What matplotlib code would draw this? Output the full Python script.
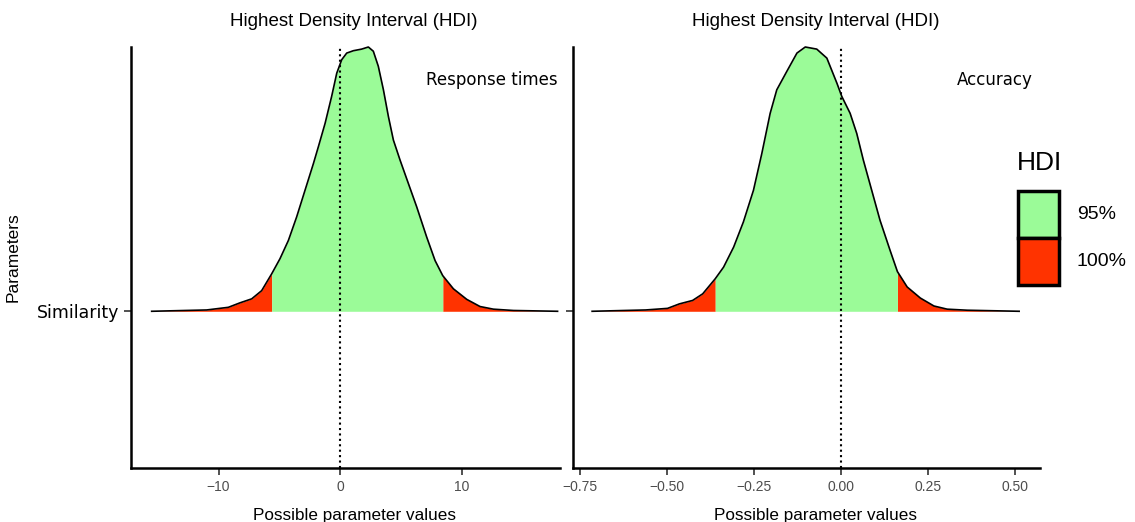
import matplotlib
matplotlib.use("Agg")
import matplotlib.pyplot as plt
from matplotlib.patches import Rectangle
import numpy as np

# traced density curves (x = parameter value, h = scaled density)
rt_x = [-15.5, -10.97, -9.19, -8.23, -7.27, -6.45, -5.62, -4.94, -4.25, -3.57,
        -2.88, -2.19, -1.78, -1.23, -0.69, -0.27, 0.14, 0.55, 1.10, 1.78,
        2.33, 2.74, 3.15, 3.57, 3.98, 4.39, 4.94, 5.62, 6.31, 7.13, 7.82,
        8.45, 9.33, 10.43, 11.52, 12.62, 14.27, 17.9]
rt_h = [0.0, 0.005, 0.015, 0.032, 0.047, 0.078, 0.142, 0.199, 0.268, 0.357,
        0.458, 0.559, 0.623, 0.711, 0.813, 0.901, 0.952, 0.977, 0.986, 0.992,
        1.0, 0.984, 0.927, 0.838, 0.737, 0.648, 0.572, 0.484, 0.395, 0.281,
        0.192, 0.135, 0.085, 0.045, 0.018, 0.008, 0.003, 0.0]
rt_hdi = [-5.62, 8.45]

acc_x = [-0.716, -0.562, -0.499, -0.465, -0.427, -0.398, -0.362, -0.338,
         -0.309, -0.281, -0.252, -0.228, -0.204, -0.185, -0.156, -0.127,
         -0.103, -0.070, -0.041, -0.012, 0.002, 0.026, 0.045, 0.064, 0.088,
         0.112, 0.141, 0.162, 0.190, 0.228, 0.267, 0.305, 0.363, 0.512]
acc_h = [0.0, 0.005, 0.011, 0.028, 0.041, 0.066, 0.123, 0.167, 0.243, 0.338,
         0.458, 0.597, 0.749, 0.838, 0.908, 0.977, 1.0, 0.992, 0.958, 0.863,
         0.813, 0.749, 0.673, 0.572, 0.458, 0.344, 0.230, 0.15, 0.092, 0.05,
         0.02, 0.008, 0.004, 0.0]
acc_hdi = [-0.362, 0.162]

rt_ticks = [-10, 0, 10]
acc_ticks = [-0.75, -0.50, -0.25, 0.00, 0.25, 0.50]
param_label = "Similarity"
legend_labels = ["95%", "100%"]

GREEN = "#9BFB98"
RED = "#FF3300"
W, H = 1135, 522

fig = plt.figure(figsize=(W / 100, H / 100), dpi=100)


def px_axes(x0, x1, y0, y1):
    return fig.add_axes([x0 / W, 1 - y1 / H, (x1 - x0) / W, (y1 - y0) / H])


def ridge(ax, x, h, hdi, xlim, ticks, ticklabels, note, note_x):
    x = np.array(x)
    h = np.array(h)
    lo, hi = hdi
    ax.fill_between(x, 0, h, where=(x <= lo), color=RED, lw=0)
    ax.fill_between(x, 0, h, where=(x >= hi), color=RED, lw=0)
    ax.fill_between(x, 0, h, where=(x >= lo) & (x <= hi), color=GREEN, lw=0)
    ax.plot(x, h, color="black", lw=1.2, clip_on=False, solid_joinstyle="round")
    ax.axvline(0, color="black", lw=1.5, ls=(0, (1, 1.6)))
    ax.set_xlim(*xlim)
    ax.set_ylim(-0.593, 1.0)
    for s in ["top", "right"]:
        ax.spines[s].set_visible(False)
    for s in ["left", "bottom"]:
        ax.spines[s].set_linewidth(1.8)
    ax.set_xticks(ticks)
    ax.set_xticklabels(ticklabels, fontsize=10, color="#4D4D4D",
                       family="Liberation Sans")
    ax.tick_params(axis="both", length=5, width=1.2, color="#333333")
    ax.set_yticks([0])
    ax.set_title("Highest Density Interval (HDI)", fontsize=13.5,
                 family="Liberation Sans", pad=15, x=0.52)
    ax.set_xlabel("Possible parameter values", fontsize=12.3,
                  family="Liberation Sans", labelpad=10, x=0.52)
    ax.text(note_x, 0.875, note, ha="right", va="center", fontsize=12,
            family="DejaVu Sans")


ax1 = px_axes(131, 560, 47, 468)
ridge(ax1, rt_x, rt_h, rt_hdi, (-17.2, 18.1), rt_ticks,
      ["\u2212" + str(-t) if t < 0 else str(t) for t in rt_ticks],
      "Response times", 17.9)
ax1.set_yticklabels([param_label], fontsize=12.5, family="DejaVu Sans")
ax1.set_ylabel("Parameters", fontsize=12.5, family="Liberation Sans", labelpad=12)

ax2 = px_axes(573, 1040, 47, 468)
ridge(ax2, acc_x, acc_h, acc_hdi, (-0.771, 0.572), acc_ticks,
      [("\u2212%.2f" % -t) if t < 0 else "%.2f" % t for t in acc_ticks],
      "Accuracy", 0.552)
ax2.set_yticklabels([""])

# legend drawn in figure pixel space
fig.text(1017 / W, 1 - 163 / H, "HDI", fontsize=19, family="Liberation Sans",
         va="center", ha="left")
for i, (col, lab) in enumerate(zip([GREEN, RED], legend_labels)):
    y_top = 191 + i * 47
    fig.add_artist(Rectangle((1018 / W, 1 - (y_top + 47) / H), 41 / W, 47 / H,
                             transform=fig.transFigure, facecolor=col,
                             edgecolor="black", lw=2.5))
    fig.text(1077 / W, 1 - (y_top + 24) / H, lab, fontsize=14,
             family="Liberation Sans", va="center", ha="left")

fig.savefig("out.png", dpi=100)
